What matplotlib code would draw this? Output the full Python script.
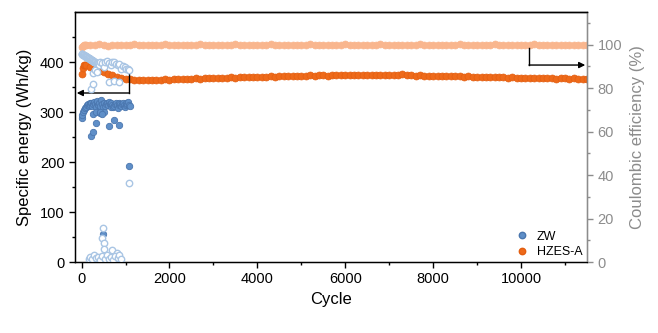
import numpy as np
import matplotlib
matplotlib.use("Agg")
import matplotlib.pyplot as plt
from matplotlib.lines import Line2D

plt.rcParams['font.family'] = ['Liberation Sans', 'DejaVu Sans']

# HZES-A cell: specific energy (Wh/kg) and coulombic efficiency (%)
hz_cycle = [0, 25, 50, 75] + list(range(100, 11501, 100))
hz_energy = [376, 388, 394, 395,
             394, 391, 387, 383, 380, 377, 374, 371, 369, 367,
             366, 365, 365, 364, 365, 365, 364, 365, 366, 365,
             366, 366, 367, 366, 367, 368, 367, 368, 368, 369,
             368, 369, 369, 370, 369, 370, 370, 371, 370, 371,
             371, 371, 372, 371, 372, 372, 373, 372, 373, 373,
             373, 374, 373, 374, 374, 373, 374, 374, 375, 374,
             374, 374, 375, 374, 374, 375, 374, 374, 375, 374,
             374, 375, 377, 374, 374, 373, 374, 373, 373, 373,
             373, 372, 373, 372, 372, 372, 371, 372, 371, 371,
             371, 370, 371, 370, 370, 370, 369, 370, 369, 369,
             369, 369, 368, 369, 368, 368, 368, 367, 368, 368,
             367, 368, 367, 367, 367]
hz_ce = [99.0, 99.5, 99.8, 99.6,
         99.7, 99.9, 99.6, 100.1, 99.8, 99.5, 99.9, 100.0, 99.7, 99.6,
         99.8, 100.1, 99.7, 99.9, 99.6, 100.0, 99.8, 99.7, 100.1, 99.9,
         99.6, 99.8, 100.0, 99.7, 99.9, 99.6, 100.1, 99.8, 99.7, 99.9,
         100.0, 99.7, 99.8, 99.6, 100.1, 99.9, 99.7, 99.8, 100.0, 99.6,
         99.9, 99.7, 100.1, 99.8, 99.6, 99.9, 100.0, 99.7, 99.8, 99.9,
         99.6, 100.1, 99.8, 99.7, 99.9, 100.0, 99.6, 99.8, 99.7, 100.1,
         99.9, 99.7, 99.8, 100.0, 99.6, 99.9, 99.8, 100.1, 99.7, 99.8,
         99.9, 99.6, 100.0, 99.8, 99.7, 99.9, 100.1, 99.6, 99.8, 99.9,
         99.7, 100.0, 99.8, 99.6, 99.9, 100.1, 99.7, 99.8, 100.0, 99.7,
         99.9, 99.6, 99.8, 100.1, 99.7, 99.9, 99.8, 100.0, 99.6, 99.8,
         99.9, 99.7, 100.1, 99.8, 99.6, 99.9, 100.0, 99.7, 99.8, 99.9,
         99.6, 99.8, 99.7, 99.9, 99.6]

# ZW cell: specific energy (Wh/kg)
zw_cycle = [0, 20, 40, 60, 80, 100, 120, 140, 160, 180,
            200, 220, 240, 260, 280, 300, 320, 340, 360, 380,
            400, 420, 440, 460, 480, 500, 520, 540, 560, 580,
            600, 620, 640, 660, 680, 700, 720, 740, 760, 780,
            800, 820, 840, 860, 880, 900, 920, 940, 960, 980,
            1000, 1020, 1040, 1060, 1080, 1100,
            205, 250, 270, 320, 330, 410, 430, 460, 480, 615, 730, 860, 1090]
zw_energy = [288, 294, 300, 305, 309, 311, 314, 316, 312, 318,
             315, 319, 313, 317, 320, 316, 310, 318, 322, 314,
             319, 312, 324, 316, 310, 318, 300, 312, 316, 318,
             314, 320, 316, 311, 318, 315, 310, 312, 317, 319,
             314, 309, 314, 318, 316, 312, 316, 319, 315, 311,
             314, 318, 316, 320, 315, 312,
             252, 261, 297, 279, 300, 299, 300, 296, 56, 272, 284, 275, 192]

# ZW cell: coulombic efficiency (%)
zw_ce_cycle = [0, 10, 20, 30, 40, 50, 60, 70, 80, 90,
               100, 110, 120, 130, 140, 150, 160, 170, 180, 190,
               200, 210, 220, 230, 240, 250, 260, 270, 280, 290,
               300, 315, 330, 345, 360, 380, 400, 430,
               460, 500, 540, 580, 620, 660, 700, 740, 780, 820,
               860, 900, 940, 980, 1020, 1060, 1090,
               220, 250, 270, 300, 350, 620, 730, 860,
               1090, 480, 470, 500, 520, 690, 800,
               160, 200, 240, 280, 330, 380, 420, 460, 540, 580,
               620, 660, 720, 760, 820, 860, 900]
zw_ce = [95.8, 95.7, 95.5, 95.4, 95.2, 95.1, 95.0, 94.9, 94.8, 94.6,
         94.5, 94.4, 94.3, 94.1, 94.0, 93.9, 93.8, 93.7, 93.6, 93.4,
         93.3, 93.1, 93.0, 92.9, 92.8, 92.6, 92.5, 92.3, 92.2, 92.1,
         92.0, 91.8, 91.6, 91.5, 91.3, 91.1, 90.8, 92.0,
         91.5, 89.5, 91.8, 92.3, 91.5, 90.5, 91.8, 92.0, 91.2, 90.6,
         91.0, 89.0, 90.3, 89.8, 89.0, 88.6, 88.4,
         79.5, 82.0, 86.8, 88.5, 87.5, 83.0, 83.4, 82.9,
         36.5, 15.6, 11.0, 8.7, 5.8, 5.5, 4.2,
         1.5, 2.5, 1.2, 3.0, 1.8, 2.2, 1.0, 2.8, 1.6, 3.2,
         1.4, 2.4, 1.1, 2.9, 1.7, 3.4, 1.2]

c_hz_energy = '#ee6a1a'
c_hz_ce = '#f9b68e'
c_zw_energy = '#5f8fc8'
c_zw_ce = '#a9c5e4'
grey = '#8c8c8c'

fig = plt.figure(figsize=(6.58, 3.33), dpi=100)
ax = fig.add_axes([75 / 658, 1 - 262 / 333, 512 / 658, 250 / 333])
ax2 = ax.twinx()

# left axis: specific energy
ax.plot(hz_cycle, hz_energy, 'o', ms=5.0, color=c_hz_energy,
        mec='#e35e10', mew=0.5)
ax.plot(zw_cycle, zw_energy, 'o', ms=4.6, color=c_zw_energy,
        mec='#4a76ae', mew=0.6)

# right axis: coulombic efficiency
ax2.plot(hz_cycle, hz_ce, 'o', ms=5.0, color=c_hz_ce, mec=c_hz_ce, mew=0.5)
ax2.plot(zw_ce_cycle, zw_ce, 'o', ms=4.6, mfc='white', mec=c_zw_ce, mew=1.0)

ax.set_xlim(-150, 11500)
ax.set_ylim(0, 500)
ax2.set_ylim(0, 115)

ax.set_xticks(range(0, 10001, 2000))
ax.set_xticks(range(0, 11001, 1000), minor=True)
ax.set_yticks(range(0, 401, 100))
ax.set_yticks(range(0, 451, 50), minor=True)
ax2.set_yticks(range(0, 101, 20))
ax2.set_yticks(range(0, 111, 10), minor=True)

ax.tick_params(axis='both', which='major', length=4, width=1,
               labelsize=10.5, direction='out')
ax.tick_params(axis='both', which='minor', length=2.5, width=1,
               direction='out')
ax2.tick_params(axis='y', which='major', length=4, width=1,
                labelsize=10.5, colors=grey)
ax2.tick_params(axis='y', which='minor', length=2.5, width=1, colors=grey)

for sp in ['left', 'bottom', 'top']:
    ax.spines[sp].set_linewidth(1.0)
ax2.spines['right'].set_color(grey)
ax2.spines['right'].set_linewidth(1.0)
ax2.spines['top'].set_linewidth(1.0)

ax.set_xlabel('Cycle', fontsize=12, labelpad=4)
ax.set_ylabel('Specific energy (Wh/kg)', fontsize=12, labelpad=6)
ax2.set_ylabel('Coulombic efficiency (%)', fontsize=12, color=grey,
               labelpad=6)

# arrows pointing to the axis each series belongs to
ax.plot([1090, 1090], [378, 338], color='k', lw=1)
ax.annotate('', xy=(-110, 338), xytext=(1090, 338),
            arrowprops=dict(arrowstyle='-|>', color='k', lw=1,
                            mutation_scale=9, shrinkA=0, shrinkB=0))
ax2.plot([10180, 10180], [98.4, 90.6], color='k', lw=1)
ax2.annotate('', xy=(11460, 90.6), xytext=(10180, 90.6),
             arrowprops=dict(arrowstyle='-|>', color='k', lw=1,
                             mutation_scale=9, shrinkA=0, shrinkB=0))

handles = [Line2D([], [], ls='none', marker='o', ms=4.6, color=c_zw_energy,
                  mec='#4a76ae'),
           Line2D([], [], ls='none', marker='o', ms=4.6, color=c_hz_energy,
                  mec='#e35e10')]
ax2.legend(handles, ['ZW', 'HZES-A'], loc='lower left',
           bbox_to_anchor=(0.836, -0.03), frameon=False, fontsize=9,
           handlelength=1.2, handletextpad=0.6, labelspacing=0.3)

fig.savefig('out.png', dpi=100)
